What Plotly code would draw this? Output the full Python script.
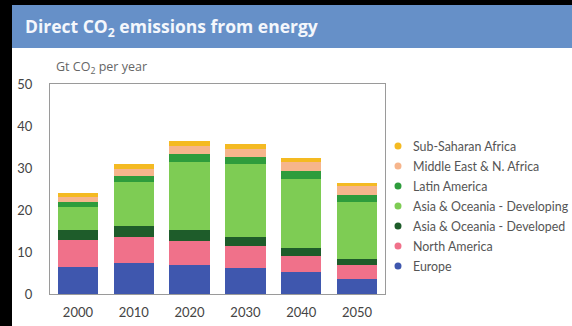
import plotly.graph_objects as go

years = ["2000", "2010", "2020", "2030", "2040", "2050"]

europe = [6.4, 7.3, 6.9, 6.3, 5.2, 3.6]
north_america = [6.5, 6.3, 5.8, 5.1, 3.9, 3.3]
asia_developed = [2.3, 2.7, 2.5, 2.2, 1.9, 1.4]
asia_developing = [5.6, 10.3, 16.3, 17.3, 16.5, 13.7]
latin_america = [1.0, 1.6, 1.8, 1.8, 1.9, 1.6]
middle_east = [1.4, 1.5, 1.9, 1.8, 2.1, 2.0]
sub_saharan = [0.8, 1.2, 1.3, 1.1, 0.8, 0.8]

series = [
    ("Europe", europe, "#3F57AE"),
    ("North America", north_america, "#F0718A"),
    ("Asia & Oceania - Developed", asia_developed, "#1E5C2A"),
    ("Asia & Oceania - Developing", asia_developing, "#7ECC54"),
    ("Latin America", latin_america, "#2E9C3C"),
    ("Middle East & N. Africa", middle_east, "#F6B58C"),
    ("Sub-Saharan Africa", sub_saharan, "#F4BA22"),
]

W, H = 572, 326
L, R, T, B = 50, 385, 84, 294  # plot area in pixels


def px_x(p):
    return (p - L) / (R - L)


def px_y(p):
    return (B - p) / (B - T)


FONT = "Lato"
TITLE_FONT = "Open Sans"
fig = go.Figure()

for name, vals, color in series:
    fig.add_trace(go.Bar(
        x=years, y=vals, name=name, marker=dict(color=color, line=dict(width=0)),
        showlegend=False,
    ))

shapes = [
    # black frame strips (left and top)
    dict(type="rect", xref="paper", yref="paper", x0=px_x(0), x1=px_x(12), y0=px_y(H), y1=px_y(0),
         fillcolor="black", line=dict(width=0), layer="below"),
    dict(type="rect", xref="paper", yref="paper", x0=px_x(0), x1=px_x(W), y0=px_y(5), y1=px_y(0),
         fillcolor="black", line=dict(width=0), layer="below"),
    # header band
    dict(type="rect", xref="paper", yref="paper", x0=px_x(12), x1=px_x(W), y0=px_y(48), y1=px_y(5),
         fillcolor="#6690C8", line=dict(width=0), layer="below"),
]

annotations = [
    dict(text="<b>Direct CO<sub>2</sub> emissions from energy</b>", xref="paper", yref="paper",
         x=px_x(23), y=px_y(27), xanchor="left", yanchor="middle", showarrow=False,
         font=dict(family=TITLE_FONT, size=17.5, color="#F4F7FC")),
    dict(text="Gt CO<sub>2</sub> per year", xref="paper", yref="paper",
         x=px_x(54), y=px_y(67), xanchor="left", yanchor="middle", showarrow=False,
         font=dict(family=TITLE_FONT, size=12.5, color="#666666")),
]

# legend: round markers and labels, top entry = last series in the stack
LEG_MARK_X, LEG_TEXT_X, LEG_TOP, LEG_STEP, LEG_R = 398, 412, 146, 20, 3.5
for i, (name, _, color) in enumerate(reversed(series)):
    cy = LEG_TOP + i * LEG_STEP
    shapes.append(dict(
        type="circle", xref="paper", yref="paper",
        x0=px_x(LEG_MARK_X - LEG_R), x1=px_x(LEG_MARK_X + LEG_R),
        y0=px_y(cy + LEG_R), y1=px_y(cy - LEG_R),
        fillcolor=color, line=dict(width=0),
    ))
    annotations.append(dict(
        text=name, xref="paper", yref="paper", x=px_x(LEG_TEXT_X), y=px_y(cy),
        xanchor="left", yanchor="middle", showarrow=False, borderpad=0,
        font=dict(family=FONT, size=12.4, color="#555555"),
    ))

fig.update_layout(
    width=W, height=H, autosize=False,
    margin=dict(l=L, r=W - R, t=T, b=H - B, pad=0, autoexpand=False),
    barmode="stack", bargap=0.28,
    paper_bgcolor="white", plot_bgcolor="white",
    font=dict(family=FONT, color="#444444"),
    shapes=shapes, annotations=annotations, showlegend=False,
)

fig.update_xaxes(
    automargin=False,
    showline=True, mirror=True, linecolor="#9A9A9A", linewidth=1,
    ticks="", tickfont=dict(family=FONT, size=13, color="#444444"),
    ticklabelstandoff=6,
)
fig.update_yaxes(
    automargin=False,
    range=[0, 50], dtick=10, showgrid=False, zeroline=False,
    showline=True, mirror=True, linecolor="#9A9A9A", linewidth=1,
    ticks="", tickfont=dict(family=FONT, size=13, color="#444444"),
    ticklabelstandoff=14,
)

fig.write_html("out.html")
